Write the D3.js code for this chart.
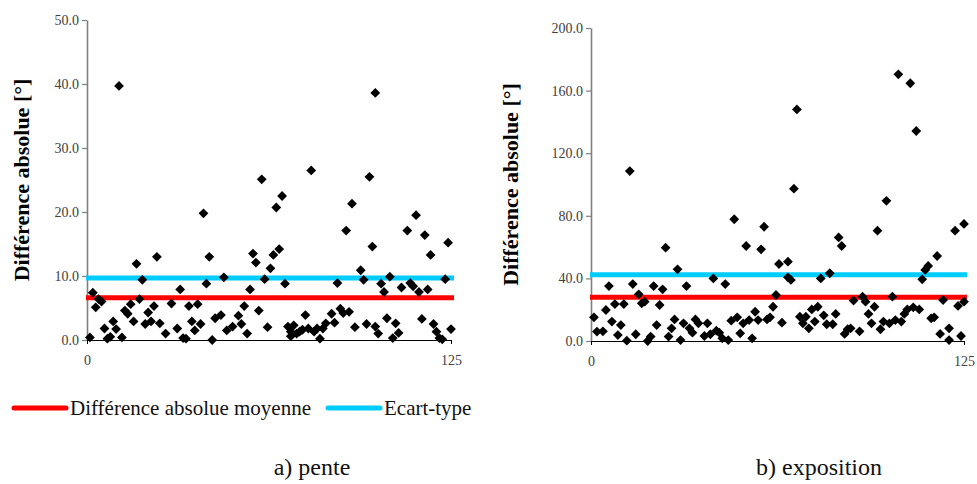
<!DOCTYPE html>
<html>
<head>
<meta charset="utf-8">
<script src="https://cdn.jsdelivr.net/npm/d3@7"></script>
<style>
  #fig text { font-family: 'Liberation Serif'; }
</style>
</head>
<body style="margin:0">
<svg id="fig" width="977" height="484"></svg>
<script>
// a) pente : position (1..125) and absolute difference
const penteX = [1,2,3,4,5,6,7,8,9,10,11,12,13,14,15,16,17,18,19,20,21,22,23,24,25,27,29,31,32,33,34,35,36,37,38,39,40,41,42,43,44,46,47,48,50,52,53,54,55,56,57,58,59,60,61,62,63,64,65,66,67,68,69,70,70,71,72,73,74,75,76,77,78,79,80,81,82,84,85,86,87,88,89,90,91,92,94,95,96,97,98,99,99,100,101,102,103,104,105,106,107,108,110,111,112,113,114,115,116,117,118,119,120,121,122,123,124,125];
const penteY = [0.4,7.4,5.1,6.4,6.0,1.8,0.2,0.5,2.9,1.7,39.7,0.4,4.6,4.1,5.6,2.9,11.9,6.4,9.4,2.5,4.3,2.9,5.3,13.0,2.6,1.0,5.7,1.8,7.9,0.3,0.2,5.3,2.9,1.5,5.6,2.5,19.8,8.8,13.0,0.0,3.4,3.9,9.8,1.5,2.1,3.8,2.5,5.3,1.0,7.9,13.5,12.1,4.6,25.1,9.5,2.0,11.2,13.3,20.7,14.2,22.5,8.8,2.1,0.6,1.3,2.3,1.0,1.3,1.6,3.9,1.8,26.5,1.3,1.8,0.2,1.8,2.6,4.1,2.7,8.9,4.9,4.2,17.1,4.4,21.3,2.0,10.9,9.4,2.5,25.5,14.6,2.1,38.6,1.0,8.8,7.5,3.4,9.9,0.3,2.6,1.1,8.2,17.1,8.9,8.4,19.5,7.5,3.3,16.4,7.9,13.3,2.5,1.3,0.3,0.1,9.5,15.2,1.7];
const penteMoyenne = 6.6;
const penteEcart = 9.7;

// b) exposition
const expoX = [1,2,4,5,6,7,8,9,10,11,12,13,14,15,16,17,18,19,20,21,22,23,24,25,26,27,28,29,30,31,32,33,34,35,36,38,39,40,41,42,43,44,45,46,47,48,49,50,51,52,53,54,55,56,57,58,59,60,61,62,63,64,66,66,67,68,69,70,71,72,73,74,75,76,77,78,79,80,81,82,83,84,85,86,87,88,90,91,92,93,94,95,96,97,98,99,100,101,102,103,104,105,106,107,108,109,110,111,112,113,114,115,116,117,118,120,120,122,123,124,125,125];
const expoY = [15.1,6.0,6.2,19.8,35.1,12.4,23.6,3.8,10.2,23.6,0.2,108.6,36.4,4.3,29.8,24.1,25.1,0.0,2.8,35.1,10.2,23.0,33.0,59.6,2.8,8.1,13.8,45.8,0.6,11.3,35.1,8.1,5.3,13.8,11.3,3.2,11.3,4.3,40.0,6.6,5.3,1.7,36.4,0.6,13.0,77.8,15.1,4.9,11.3,60.7,13.4,1.7,18.7,13.4,58.6,73.0,13.8,15.1,21.9,29.4,49.2,11.7,50.7,40.7,39.0,97.3,148.0,15.5,11.3,15.5,8.1,20.2,12.4,21.9,40.0,16.4,10.7,43.3,10.7,17.3,66.2,60.7,4.5,7.5,8.1,25.8,6.2,28.3,25.1,17.3,11.3,21.9,70.5,7.5,12.4,89.6,11.3,28.3,13.4,170.4,12.4,17.3,20.2,164.7,21.5,134.2,20.2,39.4,45.4,48.0,14.5,15.1,54.3,4.5,26.2,8.1,0.6,70.5,22.4,3.2,25.1,74.8,0.6,37.9];
const expoMoyenne = 27.9;
const expoEcart = 42.4;

const yTicksPente = [0,10,20,30,40,50];
const yTicksExpo = [0,40,80,120,160,200];
const xTicks = [0,125];

const legendLabels = ["Différence absolue moyenne", "Ecart-type"];
const captions = ["a) pente", "b) exposition"];
const colMoy = "#ff0000", colEcart = "#00ccff";
const FONT = "Liberation Serif";

const svg = d3.select("#fig");
const fmt = d3.format(".1f");
const diamond = d3.symbol().type(d3.symbolSquare).size(48);

function setFont(sel, size, weight) {
  return sel.style("font-family", "'" + FONT + "'")
    .style("font-size", size + "px").style("font-weight", weight || "normal");
}

function panel(cfg) {
  const x = d3.scaleLinear().domain([0,125]).range([cfg.left, cfg.right]);
  const y = d3.scaleLinear().domain([0, cfg.max]).range([cfg.bottom, cfg.top]);
  const g = svg.append("g");

  // y axis (grey)
  const ya = g.append("g")
    .attr("transform", "translate(" + cfg.left + ",0)")
    .call(d3.axisLeft(y).tickValues(cfg.ticks).tickFormat(fmt).tickSize(5).tickSizeOuter(0).tickPadding(3));
  ya.attr("font-family", null);
  setFont(ya.selectAll("text"), 14).attr("fill", "#404040");
  ya.select(".domain").attr("stroke", "#7f7f7f").attr("stroke-width", 1.6);
  ya.selectAll(".tick line").attr("stroke", "#7f7f7f").attr("stroke-width", 1.2);

  // x axis (black)
  const xa = g.append("g")
    .attr("transform", "translate(0," + cfg.bottom + ")")
    .call(d3.axisBottom(x).tickValues(xTicks).tickFormat(d3.format("d")).tickSize(4).tickSizeOuter(0).tickPadding(11));
  xa.attr("font-family", null);
  setFont(xa.selectAll("text"), 14).attr("fill", "#404040");
  xa.select(".domain").attr("stroke", "#000").attr("stroke-width", 1.2);
  xa.selectAll(".tick line").attr("stroke", "#000");

  // reference lines
  g.append("line")
    .attr("x1", x(0) - 1).attr("x2", x(125) + 3)
    .attr("y1", y(cfg.moy)).attr("y2", y(cfg.moy))
    .attr("stroke", colMoy).attr("stroke-width", 5);
  g.append("line")
    .attr("x1", x(0) - 1).attr("x2", x(125) + 3)
    .attr("y1", y(cfg.ecart)).attr("y2", y(cfg.ecart))
    .attr("stroke", colEcart).attr("stroke-width", 5);

  // points
  g.selectAll("path.pt")
    .data(cfg.xs.map((d, i) => [d, cfg.ys[i]]))
    .enter().append("path")
    .attr("class", "pt")
    .attr("d", diamond)
    .attr("transform", d => "translate(" + x(d[0]) + "," + y(d[1]) + ") rotate(45)")
    .attr("fill", "#000");

  // y title
  setFont(g.append("text"), 22, "bold")
    .attr("transform", "translate(" + cfg.titleX + "," + ((cfg.top + cfg.bottom) / 2) + ") rotate(-90)")
    .attr("text-anchor", "middle")
    .text("Différence absolue [°]");

  // caption
  setFont(svg.append("text"), 24)
    .attr("x", cfg.capX).attr("y", 475)
    .attr("text-anchor", "middle")
    .attr("fill", "#111")
    .text(cfg.caption);
}

panel({left: 87, right: 451, top: 20, bottom: 340, max: 50, ticks: yTicksPente,
  xs: penteX, ys: penteY, moy: penteMoyenne, ecart: penteEcart, titleX: 29, capX: 312, caption: captions[0]});
panel({left: 591, right: 964, top: 28, bottom: 341, max: 200, ticks: yTicksExpo,
  xs: expoX, ys: expoY, moy: expoMoyenne, ecart: expoEcart, titleX: 518, capX: 819, caption: captions[1]});

// legend
const leg = svg.append("g");
const legItems = [{x: 12, col: colMoy, label: legendLabels[0]}, {x: 326, col: colEcart, label: legendLabels[1]}];
legItems.forEach(it => {
  leg.append("line")
    .attr("x1", it.x + 2).attr("x2", it.x + 54)
    .attr("y1", 408).attr("y2", 408)
    .attr("stroke", it.col).attr("stroke-width", 5).attr("stroke-linecap", "round");
  setFont(leg.append("text"), 21)
    .attr("x", it.x + 58).attr("y", 415)
    .attr("fill", "#111")
    .text(it.label);
});
</script>
</body>
</html>
